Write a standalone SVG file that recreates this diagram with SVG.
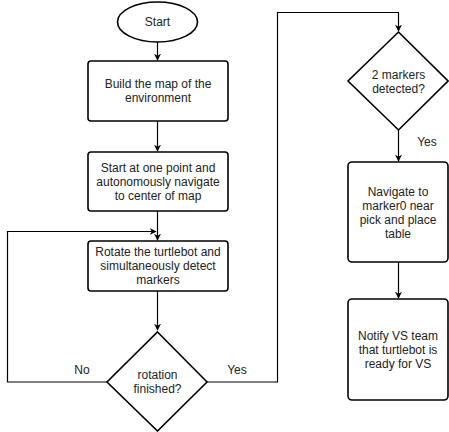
<svg xmlns="http://www.w3.org/2000/svg" width="449" height="432" viewBox="0 0 449 432">
<style>
.shape{fill:#fff;stroke:#000;stroke-width:1.6}
.edge{fill:none;stroke:#000;stroke-width:1.2}
text{font-family:"Liberation Sans",Arial,sans-serif;font-size:12px;fill:#222;text-anchor:middle}
</style>
<defs>
<marker id="arr" viewBox="0 0 10 10" refX="9" refY="5" markerWidth="7" markerHeight="7" orient="auto" markerUnits="userSpaceOnUse">
<path d="M0,0 L10,5 L0,10 L3,5 Z" fill="#000"/>
</marker>
</defs>
<rect width="449" height="432" fill="#fff"/>
<g id="connectors">
<path class="edge" d="M157.5,42 V60" marker-end="url(#arr)"/>
<path class="edge" d="M157.5,121 V151" marker-end="url(#arr)"/>
<path class="edge" d="M157.5,211 V240" marker-end="url(#arr)"/>
<path class="edge" d="M157.5,291 V330" marker-end="url(#arr)"/>
<path class="edge" d="M107,382 H7.5 V231.5 H156" marker-end="url(#arr)"/>
<path class="edge" d="M207,382 H277.5 V12.5 H398.5 V31" marker-end="url(#arr)"/>
<path class="edge" d="M398.5,130 V161" marker-end="url(#arr)"/>
<path class="edge" d="M398.5,262 V298" marker-end="url(#arr)"/>
<text x="82" y="374">No</text>
<text x="237" y="374">Yes</text>
<text x="427" y="146">Yes</text>
</g>
<g id="start">
<ellipse class="shape" cx="157.5" cy="22" rx="40" ry="20"/>
<text x="157.5" y="26">Start</text>
</g>
<g id="build-map">
<rect class="shape" x="88" y="61" width="140" height="60" rx="3"/>
<text x="158" y="88">Build the map of the</text>
<text x="158" y="102">environment</text>
</g>
<g id="navigate-center">
<rect class="shape" x="88" y="152" width="140" height="59" rx="3"/>
<text x="158" y="172">Start at one point and</text>
<text x="158" y="186">autonomously navigate</text>
<text x="158" y="200">to center of map</text>
</g>
<g id="rotate">
<rect class="shape" x="88" y="241" width="140" height="50" rx="3"/>
<text x="158" y="256">Rotate the turtlebot and</text>
<text x="158" y="270">simultaneously detect</text>
<text x="158" y="284">markers</text>
</g>
<g id="rotation-finished">
<polygon class="shape" points="157.5,332 207,382 157.5,431 107,382"/>
<text x="157.5" y="379">rotation</text>
<text x="157.5" y="393">finished?</text>
</g>
<g id="markers-detected">
<polygon class="shape" points="398.5,32 448,81 398.5,130 348,81"/>
<text x="398.5" y="79">2 markers</text>
<text x="398.5" y="93">detected?</text>
</g>
<g id="navigate-marker0">
<rect class="shape" x="348" y="162" width="100" height="100" rx="4"/>
<text x="398" y="196">Navigate to</text>
<text x="398" y="210">marker0 near</text>
<text x="398" y="224">pick and place</text>
<text x="398" y="238">table</text>
</g>
<g id="notify">
<rect class="shape" x="348" y="299" width="100" height="101" rx="4"/>
<text x="398" y="340">Notify VS team</text>
<text x="398" y="354">that turtlebot is</text>
<text x="398" y="368">ready for VS</text>
</g>
</svg>
